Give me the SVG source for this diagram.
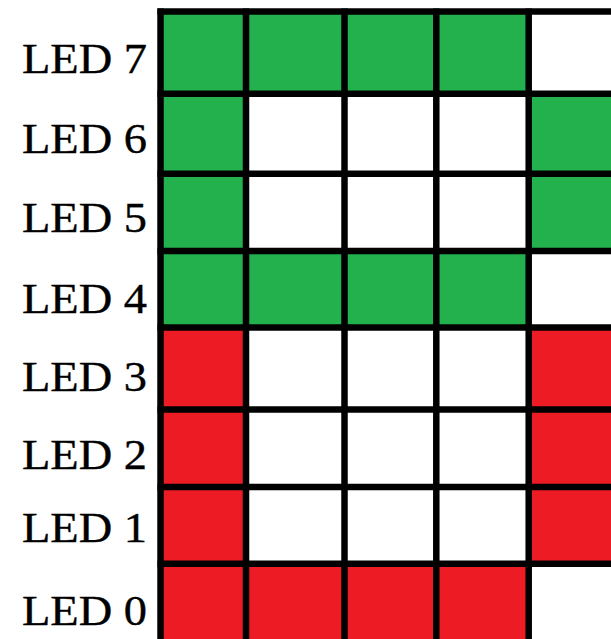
<svg xmlns="http://www.w3.org/2000/svg" width="611" height="639" viewBox="0 0 611 639">
<style>
.g{fill:#22B14C}
.r{fill:#ED1C24}
.ln{stroke:#000;stroke-width:6.5;fill:none}
.lbl{font-family:"Liberation Serif","Times New Roman",serif;font-size:43px;fill:#000;stroke:#000;stroke-width:0.4}
</style>
<rect x="0" y="0" width="611" height="639" fill="#fff"/>
<g id="cells">
<rect class="g" x="160" y="11" width="369" height="83"/>
<rect class="g" x="160" y="93" width="86" height="160"/>
<rect class="g" x="528" y="93" width="83" height="160"/>
<rect class="g" x="160" y="251" width="369" height="77"/>
<rect class="r" x="160" y="327" width="86" height="237"/>
<rect class="r" x="528" y="327" width="83" height="237"/>
<rect class="r" x="160" y="563" width="369" height="76"/>
</g>
<g id="grid" class="ln">
<line x1="157.5" y1="11.5" x2="611" y2="11.5"/>
<line x1="157.5" y1="93.7" x2="611" y2="93.7"/>
<line x1="157.5" y1="173.7" x2="611" y2="173.7"/>
<line x1="157.5" y1="251" x2="611" y2="251"/>
<line x1="157.5" y1="327.5" x2="611" y2="327.5"/>
<line x1="157.5" y1="409.5" x2="611" y2="409.5"/>
<line x1="157.5" y1="487" x2="611" y2="487"/>
<line x1="157.5" y1="563.7" x2="611" y2="563.7"/>
<line x1="160.5" y1="8.5" x2="160.5" y2="639"/>
<line x1="246" y1="8.5" x2="246" y2="639"/>
<line x1="344.5" y1="8.5" x2="344.5" y2="639"/>
<line x1="436.3" y1="8.5" x2="436.3" y2="639"/>
<line x1="528.7" y1="8.5" x2="528.7" y2="639"/>
</g>
<g id="labels" class="lbl">
<text x="22" y="73" textLength="125" lengthAdjust="spacingAndGlyphs">LED 7</text>
<text x="22" y="153" textLength="125" lengthAdjust="spacingAndGlyphs">LED 6</text>
<text x="22" y="232" textLength="125" lengthAdjust="spacingAndGlyphs">LED 5</text>
<text x="22" y="313" textLength="125" lengthAdjust="spacingAndGlyphs">LED 4</text>
<text x="22" y="391" textLength="125" lengthAdjust="spacingAndGlyphs">LED 3</text>
<text x="22" y="469" textLength="125" lengthAdjust="spacingAndGlyphs">LED 2</text>
<text x="22" y="542" textLength="125" lengthAdjust="spacingAndGlyphs">LED 1</text>
<text x="22" y="625" textLength="125" lengthAdjust="spacingAndGlyphs">LED 0</text>
</g>
</svg>
